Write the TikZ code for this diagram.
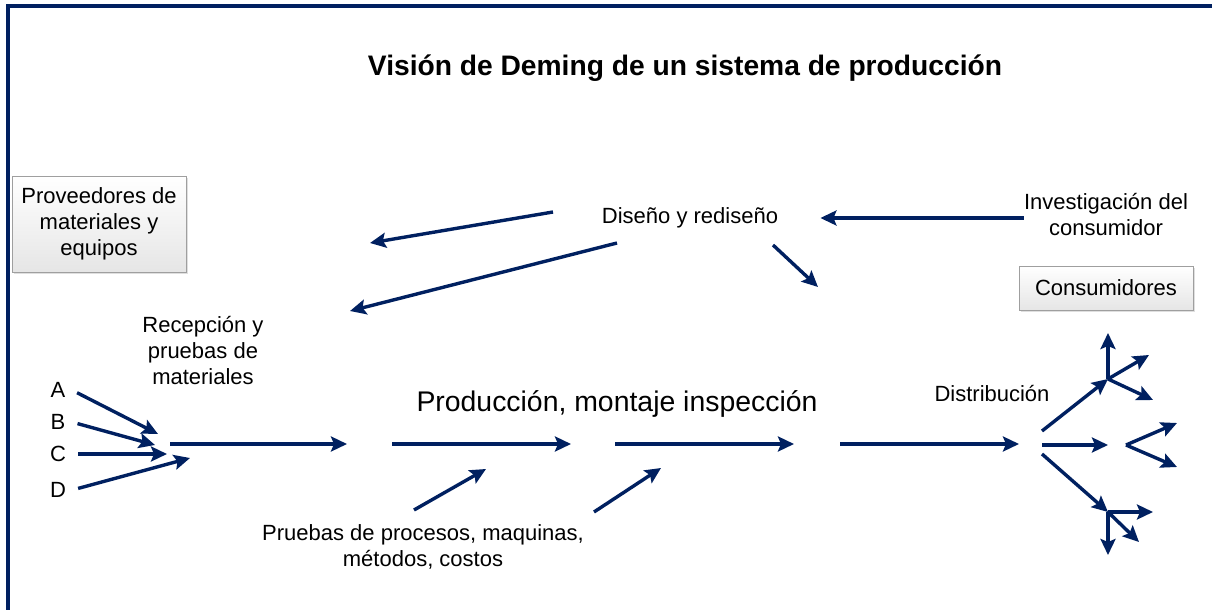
\documentclass[tikz,border=0pt]{standalone}
\usepackage{fontspec}
\setmainfont{Liberation Sans}
\usetikzlibrary{arrows.meta}
\usetikzlibrary{shadows}
\definecolor{navy}{RGB}{0,32,96}

\begin{document}
\begin{tikzpicture}[x=0.5pt, y=-0.5pt,
  flow/.style={-{Stealth[length=8pt,width=7.5pt,inset=1.5pt]}, line width=1.7pt, navy},
  lbl/.style={font=\fontsize{11}{13}\selectfont, align=center, inner sep=0pt},
  box/.style={lbl, draw=gray!75, top color=white, bottom color=gray!20, minimum width=87pt,
    drop shadow={opacity=0.25, shadow xshift=1pt, shadow yshift=-1pt}}]
  \useasboundingbox (0,0) rectangle (1212,610);
  \draw[navy, line width=2pt] (8,610) -- (8,6) -- (1212,6);

  \node[font=\fontsize{14.1}{17}\selectfont\bfseries] (title) at (685,68) {Visión de Deming de un sistema de producción};
  \node[box, minimum height=48pt] (prov) at (99,224) {Proveedores de\\materiales y\\equipos};
  \node[box, minimum height=22pt] (cons) at (1106,288) {Consumidores};
  \node[lbl] (rec) at (203,351) {Recepción y\\pruebas de\\materiales};
  \node[lbl] (dis) at (690,218) {Diseño y rediseño};
  \node[lbl] (inv) at (1106,215) {Investigación del\\consumidor};
  \node[lbl, font=\fontsize{14.2}{17}\selectfont] (prod) at (617,404) {Producción, montaje inspección};
  \node[lbl] (dist) at (992,394) {Distribución};
  \node[lbl] (prue) at (423,547) {Pruebas de procesos, maquinas,\\métodos, costos};

  % suppliers A-D
  \foreach \n/\y/\xt/\yt in {A/390/158/434, B/422/155/445, C/454/167/454, D/490/190/458} {
    \node[lbl, inner sep=3pt] (\n) at (58,\y) {\n};
    \coordinate (t\n) at (\xt,\yt);
    \draw[flow, shorten <=3pt] (\n.east) -- (t\n);
  }

  % main line
  \foreach \a/\b [count=\i] in {170/347, 392/571, 615/794, 840/1019} {
    \coordinate (m\i a) at (\a,444);
    \coordinate (m\i b) at (\b,444);
    \draw[flow] (m\i a) -- (m\i b);
  }

  % design and tests
  \foreach \n/\xa/\ya/\xb/\yb in {d1/553/212/370/243, d2/617/243/350/311, d3/773/245/818/287,
      p1/414/510/486/469, p2/594/512/661/468} {
    \coordinate (\n s) at (\xa,\ya);
    \coordinate (\n e) at (\xb,\yb);
    \draw[flow] (\n s) -- (\n e);
  }
  \draw[flow, shorten >=21pt] (inv.west |- dis.east) -- (dis.east);

  % distribution fan
  \coordinate (up) at (1108,379);
  \coordinate (mid) at (1126,445);
  \coordinate (low) at (1108,512);
  \coordinate (f1) at (1042,431);
  \coordinate (f2) at (1042,445);
  \coordinate (f3) at (1042,454);
  \coordinate (f2e) at (1108,445);
  \draw[flow] (f1) -- (up);
  \draw[flow] (f2) -- (f2e);
  \draw[flow] (f3) -- (low);
  \foreach \h/\x/\y [count=\i] in {up/1108/333, up/1149/355, up/1153/400,
      mid/1177/423, mid/1177/467,
      low/1153/512, low/1108/555, low/1139/542} {
    \coordinate (g\i) at (\x,\y);
    \draw[flow] (\h) -- (g\i);
  }
\end{tikzpicture}
\end{document}
